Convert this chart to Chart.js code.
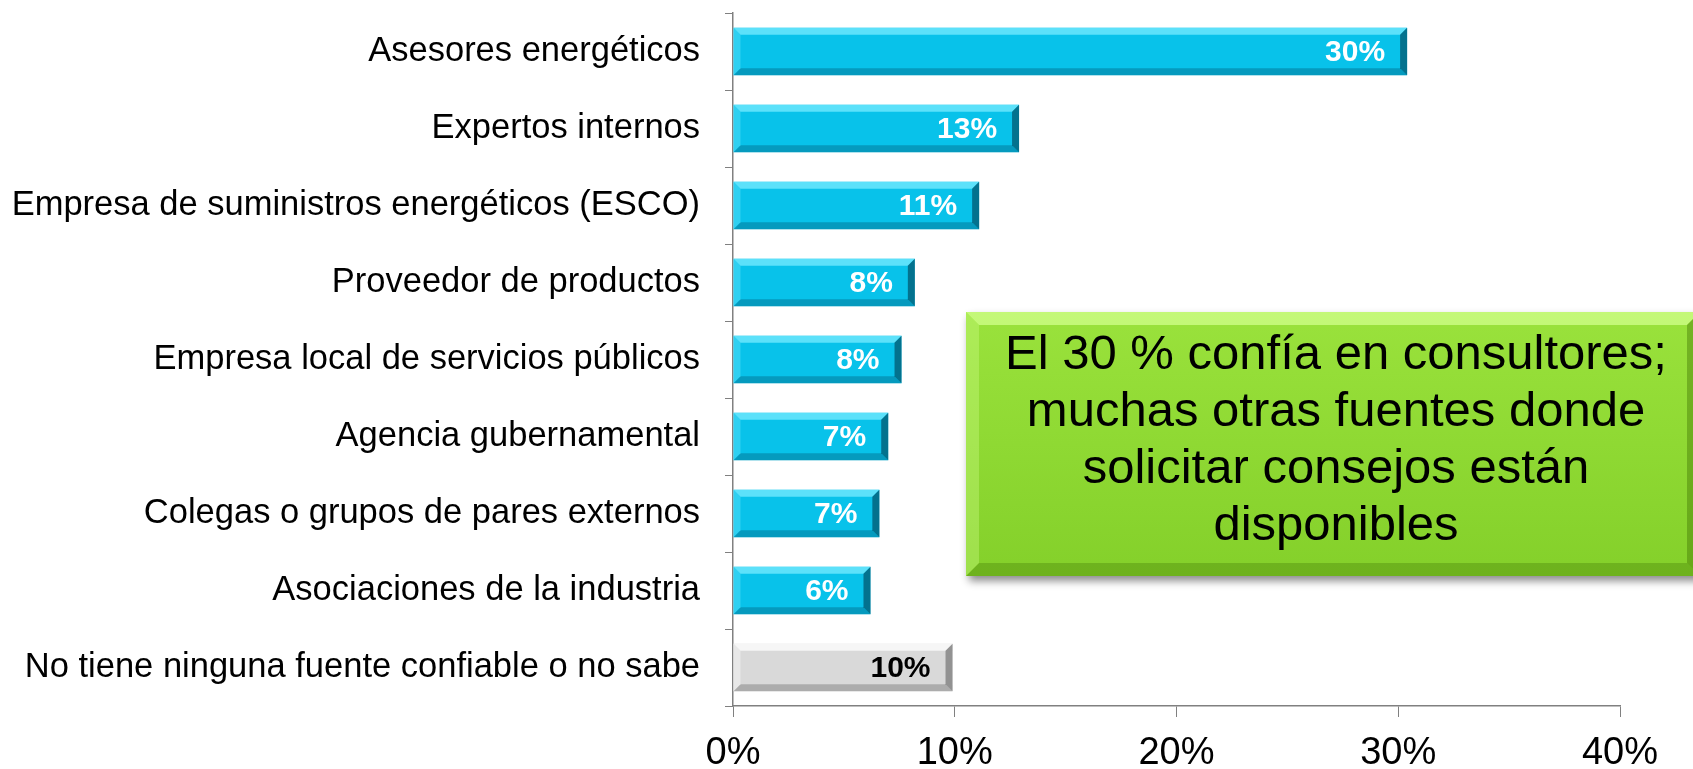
<!DOCTYPE html>
<html>
<head>
<meta charset="utf-8">
<script src="https://cdn.jsdelivr.net/npm/chart.js@4"></script>
<style>
  html, body { margin: 0; padding: 0; background: #fff; }
  #wrap { width: 1693px; height: 769px; }
</style>
</head>
<body>
<div id="wrap"><canvas id="chart"></canvas></div>
<script>
const categories = [
  "Asesores energéticos",
  "Expertos internos",
  "Empresa de suministros energéticos (ESCO)",
  "Proveedor de productos",
  "Empresa local de servicios públicos",
  "Agencia gubernamental",
  "Colegas o grupos de pares externos",
  "Asociaciones de la industria",
  "No tiene ninguna fuente confiable o no sabe",
];
const values = [30.4, 12.9, 11.1, 8.2, 7.6, 7.0, 6.6, 6.2, 9.9];
const valueLabels = ["30%", "13%", "11%", "8%", "8%", "7%", "7%", "6%", "10%"];
const calloutLines = [
  "El 30 % confía en consultores;",
  "muchas otras fuentes donde",
  "solicitar consejos están",
  "disponibles",
];

const FONT = "'Liberation Sans', Arial, sans-serif";

function poly(c, pts, fill) {
  c.beginPath();
  c.moveTo(pts[0][0], pts[0][1]);
  for (let i = 1; i < pts.length; i++) c.lineTo(pts[i][0], pts[i][1]);
  c.closePath();
  c.fillStyle = fill;
  c.fill();
}

// bevelled edges, like the office "cool slant" look
function bevel(c, l, t, r, b, s, cols) {
  poly(c, [[l, t], [r, t], [r - s, t + s], [l + s, t + s]], cols.top);
  poly(c, [[l, b], [r, b], [r - s, b - s], [l + s, b - s]], cols.bottom);
  poly(c, [[l, t], [l + s, t + s], [l + s, b - s], [l, b]], cols.left);
  poly(c, [[r, t], [r, b], [r - s, b - s], [r - s, t + s]], cols.right);
}

const barBevel = {
  id: "barBevel",
  afterDatasetsDraw(chart) {
    const c = chart.ctx;
    const meta = chart.getDatasetMeta(0);
    c.save();
    meta.data.forEach((bar, i) => {
      const last = i === values.length - 1;
      const t = bar.y - bar.height / 2;
      const b = bar.y + bar.height / 2;
      bevel(c, bar.base, t, bar.x, b, 7, last ? {
        top: "rgba(255,255,255,0.75)",
        bottom: "rgba(90,90,90,0.35)",
        left: "rgba(255,255,255,0.4)",
        right: "rgba(60,60,60,0.45)",
      } : {
        top: "rgba(120,235,255,0.75)",
        bottom: "rgba(0,80,110,0.35)",
        left: "rgba(120,235,255,0.35)",
        right: "rgba(0,60,80,0.6)",
      });

      c.font = "bold 30px " + FONT;
      c.textAlign = "right";
      c.textBaseline = "middle";
      c.fillStyle = last ? "#000" : "#fff";
      c.fillText(valueLabels[i], bar.x - 22, bar.y + 1);
    });
    c.restore();
  },
};

const callout = {
  id: "callout",
  afterDraw(chart) {
    const c = chart.ctx;
    const l = 966, t = 312, r = 1700, b = 576;
    c.save();
    c.shadowColor = "rgba(0,0,0,0.45)";
    c.shadowBlur = 8;
    c.shadowOffsetX = 3;
    c.shadowOffsetY = 5;
    const g = c.createLinearGradient(0, t, 0, b);
    g.addColorStop(0, "#9ae23c");
    g.addColorStop(1, "#84d02a");
    c.fillStyle = g;
    c.fillRect(l, t, r - l, b - t);
    c.restore();
    c.save();
    bevel(c, l, t, r, b, 13, {
      top: "rgba(210,255,140,0.75)",
      bottom: "rgba(60,110,0,0.3)",
      left: "rgba(210,255,140,0.35)",
      right: "rgba(60,110,0,0.4)",
    });
    c.font = "49px " + FONT;
    c.fillStyle = "#000";
    c.textAlign = "center";
    c.textBaseline = "alphabetic";
    calloutLines.forEach((line, i) => {
      c.fillText(line, 1336, 369 + i * 57);
    });
    c.restore();
  },
};

const ctx = document.getElementById("chart");

const chart = new Chart(ctx, {
  type: "bar",
  data: {
    labels: categories,
    datasets: [
      {
        data: values,
        backgroundColor: values.map((v, i) => (i === values.length - 1 ? "#d9d9d9" : "#08c2ea")),
        borderWidth: 0,
        barPercentage: 0.62,
        categoryPercentage: 1,
      },
    ],
  },
  options: {
    indexAxis: "y",
    responsive: true,
    maintainAspectRatio: false,
    animation: false,
    layout: {
      padding: { top: 13, right: 73, left: 0, bottom: 0 },
    },
    scales: {
      x: {
        min: 0,
        max: 40,
        afterFit: (scale) => {
          scale.height = 63;
        },
        grid: {
          drawOnChartArea: false,
          tickLength: 11,
          color: "#808080",
        },
        border: { color: "#808080", width: 1.5 },
        ticks: {
          stepSize: 10,
          padding: 14,
          color: "#000",
          font: { family: FONT, size: 38 },
          callback: function (value) {
            return value + "%";
          },
        },
      },
      y: {
        afterFit: (scale) => {
          scale.width = 733;
          scale.paddingTop = 0;
          scale.paddingBottom = 0;
        },
        grid: {
          drawOnChartArea: false,
          tickLength: 8,
          color: "#808080",
        },
        border: { color: "#808080", width: 1.5 },
        ticks: {
          padding: 25,
          color: "#000",
          font: { family: FONT, size: 34.5 },
        },
      },
    },
    plugins: {
      legend: { display: false },
      tooltip: { enabled: false },
    },
  },
  plugins: [barBevel, callout],
});
</script>
</body>
</html>
